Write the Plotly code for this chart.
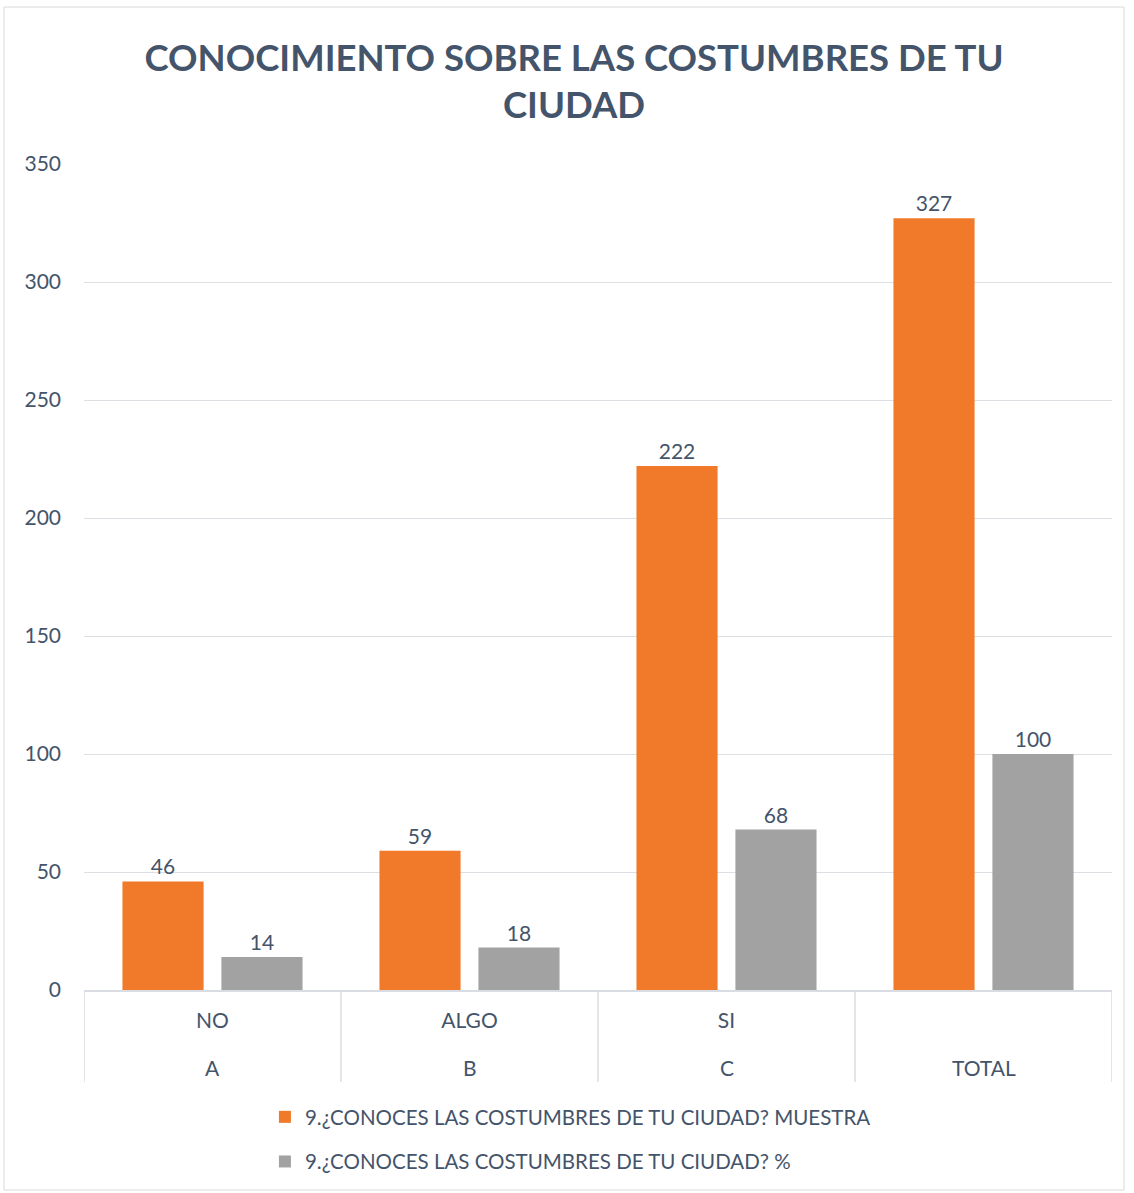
import plotly.graph_objects as go

title = "CONOCIMIENTO SOBRE LAS COSTUMBRES DE TU<br>CIUDAD"
categories = ["A", "B", "C", "TOTAL"]
sub_labels = ["NO", "ALGO", "SI", " "]
muestra = [46, 59, 222, 327]
pct = [14, 18, 68, 100]
name1 = "9.¿CONOCES LAS COSTUMBRES DE TU CIUDAD? MUESTRA"
name2 = "9.¿CONOCES LAS COSTUMBRES DE TU CIUDAD? %"

txt = "#44546A"
font = "Lato"
line_col = "#D9DDE3"

fig = go.Figure()
fig.add_trace(go.Bar(x=categories, y=muestra, name=name1, legendgroup="g1",
                     marker=dict(color="#F07A2A", line=dict(width=0)),
                     text=muestra, textposition="outside", cliponaxis=False,
                     textfont=dict(size=21, color=txt, family=font)))
fig.add_trace(go.Bar(x=categories, y=pct, name=name2, legendgroup="g2",
                     marker=dict(color="#A2A2A2", line=dict(width=0)),
                     text=pct, textposition="outside", cliponaxis=False,
                     textfont=dict(size=21, color=txt, family=font)))

W, H = 1134, 1193
ml, mr, mt, mb = 84, 22, 164, 203
ph = H - mt - mb
pw = W - ml - mr

shapes = []
for i in range(len(categories) + 1):
    shapes.append(dict(type="line", xref="x", yref="paper",
                       x0=i - 0.5, x1=i - 0.5, y0=0, y1=-92 / ph,
                       line=dict(color=line_col, width=1.5)))
shapes.append(dict(type="rect", xref="paper", yref="paper",
                   x0=-(ml - 4) / pw, x1=1 + (mr - 10) / pw,
                   y0=-(mb - 3) / ph, y1=1 + (mt - 7) / ph,
                   line=dict(color="#D9D9D9", width=1), layer="below"))

annotations = [dict(x=c, xref="x", y=-77 / ph, yref="paper", text=c, showarrow=False,
                    xanchor="center", yanchor="middle",
                    font=dict(size=21, color=txt, family=font))
               for c in categories]

fig.update_layout(
    width=W, height=H,
    margin=dict(l=ml, r=mr, t=mt, b=mb, autoexpand=False),
    paper_bgcolor="white", plot_bgcolor="white",
    font=dict(family=font, color=txt, size=21),
    title=dict(text=title, x=574 / W, xanchor="center", xref="container",
               yref="container", y=1 - 71 / H, yanchor="top",
               font=dict(size=36.5, color=txt, family=font, weight="bold")),
    barmode="group", bargap=0.23, bargroupgap=0.18,
    showlegend=True,
    legend=dict(orientation="v", x=0.176, xanchor="left", y=-107 / ph, yanchor="top",
                font=dict(size=20.5, color=txt), tracegroupgap=15),
    xaxis=dict(type="category", range=[-0.5, 3.5], showgrid=False, showline=True,
               linecolor=line_col, linewidth=1.5, tickvals=categories, ticktext=sub_labels,
               tickfont=dict(size=21, color=txt), ticks="", ticklabelstandoff=11),
    yaxis=dict(range=[0, 350], dtick=50, showgrid=True, gridcolor="#DCDFE4", gridwidth=1,
               zeroline=False, showline=False, tickfont=dict(size=21, color=txt),
               ticklabelstandoff=22),
    shapes=shapes,
    annotations=annotations,
)
fig.write_html("out.html", config={"displayModeBar": False},
               post_script="document.body.style.margin='0px';")
